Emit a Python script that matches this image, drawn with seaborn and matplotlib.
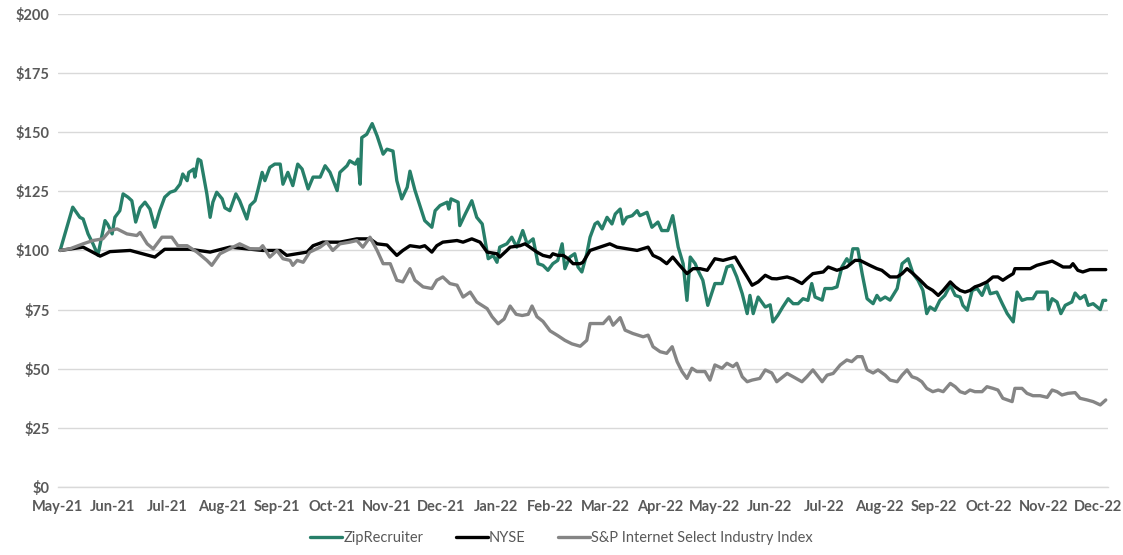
import numpy as np
import pandas as pd
import matplotlib
matplotlib.use("Agg")
import matplotlib.pyplot as plt
import seaborn as sns

month_labels = ["May-21", "Jun-21", "Jul-21", "Aug-21", "Sep-21", "Oct-21", "Nov-21",
                "Dec-21", "Jan-22", "Feb-22", "Mar-22", "Apr-22", "May-22", "Jun-22",
                "Jul-22", "Aug-22", "Sep-22", "Oct-22", "Nov-22", "Dec-22"]
y_ticks = [0, 25, 50, 75, 100, 125, 150, 175, 200]

# time in months since the May-21 tick
zip_t = [0.04, 0.27, 0.40, 0.46, 0.55, 0.64, 0.73, 0.86, 0.91, 0.99, 1.04, 1.13, 1.19, 1.28, 1.35,
         1.42, 1.50, 1.59, 1.68, 1.77, 1.86, 1.95, 2.05, 2.14, 2.23, 2.28, 2.36, 2.39, 2.48, 2.50,
         2.56, 2.61, 2.72, 2.78, 2.83, 2.90, 3.00, 3.05, 3.14, 3.25, 3.32, 3.45, 3.51, 3.60, 3.65,
         3.73, 3.78, 3.87, 3.96, 4.06, 4.11, 4.20, 4.29, 4.38, 4.46, 4.57, 4.66, 4.79, 4.88, 4.97,
         5.10, 5.15, 5.28, 5.33, 5.43, 5.48, 5.52, 5.55, 5.64, 5.74, 5.83, 5.94, 6.01, 6.12, 6.19,
         6.28, 6.38, 6.43, 6.52, 6.61, 6.70, 6.83, 6.89, 6.98, 7.11, 7.14, 7.18, 7.31, 7.34, 7.44,
         7.56, 7.65, 7.75, 7.86, 7.95, 8.02, 8.07, 8.20, 8.29, 8.38, 8.49, 8.57, 8.68, 8.77, 8.86,
         8.95, 9.04, 9.13, 9.21, 9.26, 9.35, 9.44, 9.50, 9.57, 9.66, 9.72, 9.81, 9.86, 9.94, 10.03,
         10.12, 10.18, 10.27, 10.32, 10.39, 10.49, 10.58, 10.63, 10.76, 10.85, 10.96, 11.03, 11.14,
         11.23, 11.33, 11.42, 11.49, 11.55, 11.64, 11.69, 11.78, 11.87, 12.00, 12.13, 12.22, 12.31,
         12.40, 12.50, 12.59, 12.64, 12.70, 12.79, 12.92, 13.01, 13.06, 13.15, 13.24, 13.34, 13.43,
         13.52, 13.61, 13.70, 13.77, 13.83, 13.96, 14.01, 14.14, 14.23, 14.32, 14.41, 14.47, 14.52,
         14.61, 14.69, 14.78, 14.89, 14.96, 15.02, 15.11, 15.20, 15.33, 15.42, 15.53, 15.62, 15.71,
         15.80, 15.87, 15.93, 16.02, 16.11, 16.20, 16.30, 16.39, 16.48, 16.53, 16.61, 16.70, 16.79,
         16.88, 16.97, 17.03, 17.15, 17.25, 17.34, 17.45, 17.52, 17.61, 17.70, 17.81, 17.88, 18.07,
         18.09, 18.16, 18.25, 18.32, 18.40, 18.52, 18.58, 18.67, 18.76, 18.82, 18.91, 19.04, 19.09,
         19.14]
zip_v = [100, 118.3, 114, 113.3, 107, 102.8, 98, 112.6, 111, 107, 114, 116.8, 123.9, 122.5, 121,
         112, 118, 120.4, 117.5, 109.8, 116.8, 122.5, 124.6, 125.3, 128, 132.3, 129.5, 133, 134.4, 131,
         138.6, 137.9, 123.9, 114, 120.4, 124.6, 121.8, 118, 116.8, 123.9, 121, 113.3, 119, 121, 125.3,
         133, 129.5, 135.1, 136.5, 136.5, 128, 133, 127.4, 136.5, 134.4, 126, 131, 131, 135.8, 133,
         125.3, 133, 135.8, 137.9, 136.5, 138.6, 128, 147.7, 149.1, 153.6, 148.4, 140.7, 142.8, 142, 129.5,
         121.8, 126.7, 133.5, 125.5, 119, 112.6, 109.8, 116.8, 119, 120.4, 117.5, 121.8, 120.4, 110.5, 115.4,
         121, 114, 111.2, 96.5, 97.9, 95, 101.4, 102.8, 105.6, 101.4, 108.4, 102.8, 104.9, 94.4, 93.7,
         91.6, 94.4, 95.8, 102.8, 92.3, 97.2, 98.6, 93, 90.9, 98.6, 105.6, 111.2, 112, 109.1, 114,
         111.2, 115.4, 117.5, 111.2, 114, 114.7, 116.8, 114.7, 116.1, 109.8, 112, 108.4, 108.4,
         114.7, 101.4, 94.4, 78.9, 97.2, 94.4, 91.6, 87.4, 76.8, 86, 86, 93, 93.7,
         88.8, 81.7, 73.3, 81, 73.3, 80.3, 76.1, 77, 69.8, 72.6, 76.1, 79.6, 77.5,
         77.5, 79.6, 78.9, 86, 80.3, 79, 83.9, 83.9, 84.6, 93, 96.5, 94.4, 100.7,
         100.7, 90.2, 79.6, 77.5, 81, 79, 80.3, 79, 83.9, 94.4, 96.5, 90.2, 87.4,
         83.1, 73.3, 76.1, 74.7, 78.9, 81, 85.3, 81, 80.3, 76.8, 74.7, 83.1, 83.9,
         81, 86, 81.7, 82.4, 77.5, 73.3, 69.8, 82.4, 78.9, 79.6, 79.6, 82.4, 82.4,
         75, 79.6, 78.2, 73.3, 76.8, 78.2, 82, 79.6, 81, 76.8, 77.5, 75, 78.9,
         78.9]

nyse_t = [0.04, 0.46, 0.77, 0.95, 1.32, 1.77, 1.95, 2.41, 2.78, 3.14, 3.45, 3.74, 4.06, 4.18, 4.37,
          4.55, 4.66, 4.84, 5.15, 5.46, 5.70, 5.83, 6.01, 6.19, 6.30, 6.43, 6.61, 6.70, 6.83, 6.92,
          7.03, 7.29, 7.40, 7.56, 7.71, 7.84, 8.02, 8.07, 8.20, 8.26, 8.44, 8.53, 8.62, 8.75, 8.86,
          8.99, 9.04, 9.13, 9.23, 9.32, 9.41, 9.54, 9.59, 9.72, 9.90, 10.08, 10.21, 10.39, 10.58,
          10.78, 10.87, 11.00, 11.12, 11.23, 11.33, 11.49, 11.60, 11.73, 11.86, 12.00, 12.15, 12.37,
          12.46, 12.59, 12.68, 12.79, 12.92, 13.04, 13.13, 13.32, 13.43, 13.59, 13.68, 13.79, 13.98,
          14.07, 14.23, 14.41, 14.56, 14.65, 14.83, 14.96, 15.05, 15.20, 15.33, 15.42, 15.51, 15.62,
          15.75, 15.87, 15.98, 16.08, 16.17, 16.30, 16.39, 16.48, 16.57, 16.66, 16.75, 16.84, 16.97,
          17.08, 17.17, 17.26, 17.35, 17.45, 17.48, 17.61, 17.76, 17.88, 17.99, 18.16, 18.25, 18.36,
          18.49, 18.54, 18.63, 18.72, 18.85, 19.04, 19.14]
nyse_v = [100, 101.4, 97.6, 99.5, 100, 97.2, 100.5, 100.5, 99.3, 101.4, 100.7, 100, 100, 97.9, 98.6,
          99.3, 102, 103.5, 103.5, 104.9, 104.9, 102.8, 102.3, 97.9, 100, 102, 101.4, 102, 99.3, 102,
          103.5, 104.2, 103.5, 104.9, 103.5, 99.3, 98.6, 97.2, 100, 101.4, 102, 102.8, 101.4, 99.3, 97.9,
          97.2, 98.6, 97.9, 97.9, 96.5, 94.4, 94.4, 95, 100, 101.4, 102.8, 101.4, 100.7, 100,
          101.4, 97.9, 96.5, 94.4, 97.2, 94.4, 90.2, 92.3, 92.3, 91.6, 96.5, 95.8, 97.2,
          93.7, 88.8, 85.3, 86.7, 89.5, 88.1, 88, 88.8, 88, 86, 88, 90.2, 90.9,
          93, 91.6, 93, 95.8, 95.8, 93.7, 92.3, 91.6, 88.8, 88.8, 90.2, 92.3, 90.2,
          87.4, 84.6, 83.1, 81, 83.1, 86.7, 84.6, 83.1, 82.4, 83.1, 84.6, 85.3, 86.7,
          88.8, 88.8, 87.4, 88.8, 90.2, 92.3, 92.3, 92.3, 93.7, 94.4, 95.5, 94.4, 93,
          93, 94.4, 91.6, 90.9, 91.9, 91.9, 91.9]

sp_t = [0.04, 0.22, 0.46, 0.64, 0.82, 0.95, 1.08, 1.26, 1.44, 1.50, 1.63, 1.74, 1.90, 2.08, 2.19,
        2.36, 2.54, 2.72, 2.81, 2.96, 3.14, 3.32, 3.51, 3.69, 3.74, 3.87, 4.00, 4.11, 4.24, 4.29,
        4.37, 4.48, 4.60, 4.79, 4.91, 5.02, 5.15, 5.33, 5.46, 5.57, 5.70, 5.83, 5.94, 6.07, 6.19,
        6.30, 6.43, 6.52, 6.67, 6.83, 6.92, 7.03, 7.16, 7.29, 7.40, 7.53, 7.65, 7.84, 7.93, 8.04,
        8.15, 8.26, 8.37, 8.48, 8.59, 8.66, 8.75, 8.86, 8.99, 9.13, 9.26, 9.39, 9.54, 9.66, 9.72,
        9.85, 9.96, 10.07, 10.14, 10.27, 10.36, 10.50, 10.69, 10.78, 10.87, 11.00, 11.12, 11.22,
        11.31, 11.40, 11.49, 11.58, 11.67, 11.82, 11.91, 12.00, 12.13, 12.22, 12.33, 12.40, 12.50,
        12.59, 12.68, 12.82, 12.92, 13.04, 13.13, 13.32, 13.43, 13.59, 13.68, 13.79, 13.96, 14.05,
        14.16, 14.29, 14.41, 14.50, 14.60, 14.69, 14.78, 14.89, 14.98, 15.11, 15.20, 15.33, 15.42,
        15.51, 15.60, 15.69, 15.78, 15.87, 15.98, 16.08, 16.17, 16.30, 16.39, 16.48, 16.57, 16.66,
        16.75, 16.88, 16.97, 17.08, 17.17, 17.26, 17.43, 17.48, 17.61, 17.70, 17.81, 17.94, 18.07,
        18.16, 18.25, 18.34, 18.45, 18.58, 18.67, 18.80, 18.91, 19.04, 19.14]
sp_v = [100, 100.7, 102.8, 104.2, 104.9, 108.4, 109.1, 107, 106.3, 107.6, 102.8, 100.7, 105.6, 105.6, 102,
        102, 99.3, 95.8, 93.7, 98.6, 100.7, 102.8, 100.7, 100.7, 102, 97.2, 100, 96.5, 95.8, 93.7,
        95.8, 95, 99.3, 101.4, 103.5, 100, 102.8, 103.5, 104.2, 101.4, 105.6, 100, 94.4, 94.4, 87.4,
        86.7, 92.3, 87.4, 84.6, 83.9, 87.4, 88.8, 86, 85.3, 80.3, 82.4, 78.2, 75.4, 72, 69,
        71, 76.5, 73, 72.5, 73, 76.5, 72, 70, 66, 64, 62, 60.5, 59.5, 62, 69.1,
        69.1, 69.1, 71.9, 68.4, 71.6, 66.3, 64.9, 63.5, 64.2, 59.3, 57.2, 56.5, 59.3,
        53, 48.8, 45.9, 50.2, 48.8, 48.8, 45.2, 51.6, 50.2, 52.3, 50.9, 52.3, 46.6,
        44.5, 45.2, 45.9, 49.5, 48.2, 44.5, 48, 46.6, 44.5, 46.6, 49.5, 44.5, 47.3,
        48, 51.6, 53.7, 53, 55.1, 55.1, 49.5, 48.2, 49.5, 47.3, 45.2, 44.5, 47.3,
        49.5, 46.6, 45.9, 44.5, 41.7, 40.3, 41, 40.3, 43.8, 42.4, 40.3, 39.6, 41,
        40.3, 40.3, 42.4, 41.7, 41, 37.5, 36.1, 41.7, 41.7, 39.6, 38.6, 38.6, 37.9,
        41, 40.3, 38.9, 39.6, 39.9, 37.5, 36.8, 36.1, 34.7, 36.8]

series_names = ["ZipRecruiter", "NYSE", "S&P Internet Select Industry Index"]
colors = ["#277F69", "#000000", "#858585"]

frames = []
for name, t, v in zip(series_names, [zip_t, nyse_t, sp_t], [zip_v, nyse_v, sp_v]):
    frames.append(pd.DataFrame({"t": t, "value": v, "series": name}))
df = pd.concat(frames, ignore_index=True)

sns.set_style("white")
plt.rcParams["font.family"] = ["Lato", "DejaVu Sans"]

fig = plt.figure(figsize=(11.23, 5.55), dpi=100)
ax = fig.add_axes([0.0516, 0.1225, 0.935, 0.8525])

sns.lineplot(data=df, x="t", y="value", hue="series", hue_order=series_names,
             palette=colors, estimator=None, sort=False, linewidth=2.4, ax=ax, legend=False)

ax.set_xlim(0, 19.18)
ax.set_ylim(0, 200)
ax.set_yticks(y_ticks)
ax.set_yticklabels([f"${v}" for v in y_ticks])
ax.set_xticks(range(len(month_labels)))
ax.set_xticklabels(month_labels)
ax.grid(axis="y", color="#D9D9D9", linewidth=1)
ax.set_axisbelow(True)
for s in ["top", "right", "left"]:
    ax.spines[s].set_visible(False)
ax.spines["bottom"].set_color("#D9D9D9")
ax.spines["bottom"].set_linewidth(1)
ax.tick_params(axis="x", length=5, color="#D9D9D9", colors="#595959", labelsize=10.5, pad=4)
ax.tick_params(axis="y", length=0, colors="#595959", labelsize=10.5, pad=6)
for lab in ax.get_xticklabels() + ax.get_yticklabels():
    lab.set_fontweight("bold")
ax.set_xlabel("")
ax.set_ylabel("")

from matplotlib.lines import Line2D
handles = [Line2D([0], [0], color=c, linewidth=2.4) for c in colors]
leg = fig.legend(handles, series_names, loc="center", bbox_to_anchor=(0.5, 0.03), ncol=3,
                 frameon=False, handlelength=2.2, handletextpad=0.1, columnspacing=2.2,
                 prop={"size": 10.5})
for txt in leg.get_texts():
    txt.set_color("#595959")

fig.savefig("out.png", dpi=100)
